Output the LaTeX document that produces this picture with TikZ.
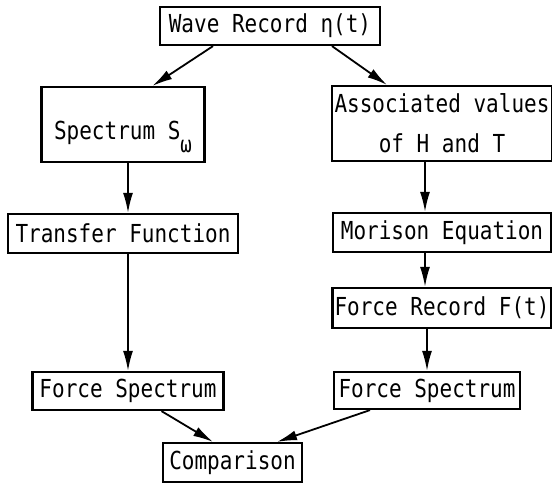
\documentclass[tikz,border=0pt]{standalone}
\usepackage{graphicx}
\usepackage{fontspec}
\setmonofont{DejaVu Sans Mono}
\usetikzlibrary{arrows.meta}
\newcommand{\tw}[1]{\scalebox{1}[1.18]{#1}}

\begin{document}
\begin{tikzpicture}[x=0.5pt,y=-0.5pt,
  box/.style={draw,line width=1.1pt,inner sep=1pt,align=center,
              font=\ttfamily\fontsize{10.5}{20}\selectfont},
  arr/.style={-{Latex[length=10pt,width=5pt]},line width=0.9pt}
]
\useasboundingbox (0,0) rectangle (552,484);
\node[box,minimum width=110pt,minimum height=19pt] (wave) at (270,26) {\tw{Wave Record η(t)}};
\node[box,minimum width=81.5pt,minimum height=37.5pt,text height=22pt,text depth=7pt] (spec) at (123,124.5)
  {\tw{Spectrum S}\raisebox{-6.5pt}{\fontsize{9.5}{9.5}\selectfont\tw{ω}}};
\node[box,minimum width=110pt,minimum height=37.5pt] (assoc) at (442,123.5) {\tw{Associated values}\\\tw{of H and T}};
\node[box,minimum width=115pt,minimum height=19.5pt] (trans) at (123,233.5) {\tw{Transfer Function}};
\node[box,minimum width=109pt,minimum height=19.5pt] (mor) at (442,232.5) {\tw{Morison Equation}};
\node[box,minimum width=109.5pt,minimum height=20pt] (frec) at (442,308) {\tw{Force Record F(t)}};
\node[box,minimum width=95.5pt,minimum height=19pt] (fsl) at (128,391) {\tw{Force Spectrum}};
\node[box,minimum width=93pt,minimum height=18.5pt] (fsr) at (427,390.5) {\tw{Force Spectrum}};
\node[box,minimum width=69.5pt,minimum height=19.5pt] (comp) at (232.5,462.5) {\tw{Comparison}};
\draw[arr] ([xshift=-28.5pt]wave.south) -- ([xshift=14.75pt]spec.north);
\draw[arr] ([xshift=31pt]wave.south) -- ([xshift=-27.5pt]assoc.north);
\draw[arr] ([xshift=2.5pt]spec.south) -- ([xshift=2.5pt]trans.north);
\draw[arr] ([xshift=2.5pt]trans.south) -- (fsl.north);
\draw[arr] ([xshift=-8.5pt]assoc.south) -- ([xshift=-8.5pt]mor.north);
\draw[arr] ([xshift=-8.5pt]mor.south) -- ([xshift=-8.5pt]frec.north);
\draw[arr] ([xshift=-7.5pt]frec.south) -- (fsr.north);
\draw[arr] ([xshift=16.75pt]fsl.south) -- ([xshift=-9.75pt]comp.north);
\draw[arr] ([xshift=-28.5pt]fsr.south) -- ([xshift=22.25pt]comp.north);
\end{tikzpicture}
\end{document}
